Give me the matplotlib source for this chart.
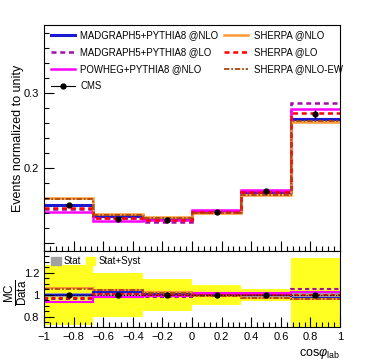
import numpy as np
import matplotlib
matplotlib.use('Agg')
import matplotlib.pyplot as plt
from matplotlib.ticker import MultipleLocator, FixedLocator
from matplotlib.lines import Line2D
from matplotlib.patches import Patch

plt.rcParams['font.family'] = ['Liberation Sans', 'DejaVu Sans']
plt.rcParams['mathtext.fontset'] = 'custom'
plt.rcParams['mathtext.rm'] = 'Liberation Sans'
plt.rcParams['mathtext.it'] = 'Liberation Sans:italic'

# bins in cos(phi_lab)
edges = [-1, -2/3, -1/3, 0, 1/3, 2/3, 1]
centers = [-5/6, -1/2, -1/6, 1/6, 1/2, 5/6]

# data, normalized to unity
cms = [0.1507, 0.1316, 0.1307, 0.1410, 0.1684, 0.2724]
cms_err = [0.0020, 0.0015, 0.0015, 0.0015, 0.0020, 0.0055]

# predictions
mg_nlo = [0.1507, 0.1350, 0.1316, 0.1410, 0.1680, 0.2653]
mg_lo = [0.1452, 0.1330, 0.1282, 0.1410, 0.1682, 0.2862]
powheg = [0.1404, 0.1289, 0.1300, 0.1430, 0.1707, 0.2787]
sherpa_nlo = [0.1596, 0.1378, 0.1338, 0.1400, 0.1640, 0.2617]
sherpa_lo = [0.1462, 0.1324, 0.1307, 0.1413, 0.1680, 0.2729]
sherpa_ew = [0.1590, 0.1375, 0.1335, 0.1402, 0.1642, 0.2622]

# relative uncertainties for ratio bands
stat_rel = [0.020, 0.015, 0.015, 0.012, 0.015, 0.025]
tot_rel = [0.27, 0.20, 0.145, 0.092, 0.052, 0.34]

models = [
    ('MADGRAPH5+PYTHIA8 @NLO', mg_nlo, '#1a1ad0', '-', 2.2),
    ('MADGRAPH5+PYTHIA8 @LO', mg_lo, '#a010a8', (0, (2, 1.5)), 1.8),
    ('POWHEG+PYTHIA8 @NLO', powheg, '#ff00ff', '-', 1.8),
    ('SHERPA @NLO', sherpa_nlo, '#ff9933', '-', 1.8),
    ('SHERPA @LO', sherpa_lo, '#ff0000', (0, (2, 1.5)), 1.8),
    ('SHERPA @NLO-EW', sherpa_ew, '#a84a10', (0, (3, 1, 1, 1)), 1.3),
]

fig = plt.figure(figsize=(3.7, 3.6), dpi=100)
ax = fig.add_axes([0.119, 0.303, 0.8, 0.628])
rax = fig.add_axes([0.119, 0.092, 0.8, 0.211])

# upper panel
for name, vals, col, ls, lw in models:
    ax.stairs(vals, edges, baseline=None, color=col, ls=ls, lw=lw)
ax.errorbar(centers, cms, yerr=cms_err, fmt='o', color='black', ms=3.5, lw=0.8, capsize=0)

ax.set_xlim(-1, 1)
ax.set_ylim(0.089, 0.391)
ax.yaxis.set_major_locator(FixedLocator([0.1, 0.2, 0.3]))
ax.set_yticklabels(['', '0.2', '0.3'])
ax.yaxis.set_minor_locator(MultipleLocator(0.02))
ax.xaxis.set_major_locator(MultipleLocator(0.2))
ax.xaxis.set_minor_locator(MultipleLocator(0.04))
ax.tick_params(axis='x', labelbottom=False)
ax.tick_params(which='both', direction='in', top=False, right=False, labelsize=8)
ax.tick_params(which='major', length=7, width=0.8)
ax.tick_params(which='minor', length=3.5, width=0.8)
ax.set_ylabel('Events normalized to unity', fontsize=9)
ax.yaxis.set_label_coords(-0.068, 0.5)

handles = []
for name, vals, col, ls, lw in models:
    handles.append(Line2D([], [], color=col, ls=ls, lw=lw))
cms_h = Line2D([], [], color='black', marker='o', ms=3.5, lw=0.8)
order_h = [handles[0], handles[1], handles[2], cms_h, handles[3], handles[4], handles[5], Line2D([], [], alpha=0)]
order_l = [models[0][0], models[1][0], models[2][0], 'CMS', models[3][0], models[4][0], models[5][0], '']
ax.legend(order_h, order_l, ncol=2, loc='upper left', frameon=False, fontsize=6.9,
          bbox_to_anchor=(0.0, 1.005), handlelength=2.5, handletextpad=0.6,
          columnspacing=0.6, labelspacing=0.72, borderaxespad=0.3)

# ratio panel
for i in range(6):
    rax.fill_between([edges[i], edges[i + 1]], 1 - tot_rel[i], 1 + tot_rel[i],
                     color='#ffff22', lw=0)
for i in range(6):
    rax.fill_between([edges[i], edges[i + 1]], 1 - stat_rel[i], 1 + stat_rel[i],
                     color='#a0a0a0', lw=0)
rax.axhline(1, color='black', ls=':', lw=0.8)
for name, vals, col, ls, lw in models:
    ratio = np.array(vals) / np.array(cms)
    rax.stairs(ratio, edges, baseline=None, color=col, ls=ls, lw=min(lw, 1.5))
rax.plot(centers, np.ones(6), 'o', color='black', ms=3.5)

rax.set_xlim(-1, 1)
rax.set_ylim(0.71, 1.4)
rax.yaxis.set_major_locator(FixedLocator([0.8, 1.0, 1.2]))
rax.set_yticklabels(['0.8', '1', '1.2'])
rax.yaxis.set_minor_locator(MultipleLocator(0.05))
rax.xaxis.set_minor_locator(MultipleLocator(0.04))
rax.set_xticks([-1, -0.8, -0.6, -0.4, -0.2, 0, 0.2, 0.4, 0.6, 0.8, 1])
rax.set_xticklabels(['\u22121', '\u22120.8', '\u22120.6', '\u22120.4', '\u22120.2', '0',
                     '0.2', '0.4', '0.6', '0.8', '1'])
rax.tick_params(which='both', direction='in', top=False, right=False, labelsize=8)
rax.tick_params(which='major', length=7, width=0.8)
rax.tick_params(which='minor', length=3.5, width=0.8)
rax.set_ylabel(r'$\frac{\mathrm{MC}}{\mathrm{Data}}$', fontsize=12, rotation=90,
               ha='center', va='center')
rax.yaxis.set_label_coords(-0.095, 0.45)
rax.set_xlabel(r'cos$\varphi_{\mathrm{lab}}$', fontsize=9, loc='right')

rax.legend([Patch(color='#a0a0a0'), Patch(color='#ffff22')], ['Stat', 'Stat+Syst'],
           ncol=2, loc='upper left', frameon=False, fontsize=7, handlelength=1.0,
           handleheight=1.0, handletextpad=0.3, columnspacing=0.5,
           bbox_to_anchor=(0.0, 1.02), borderaxespad=0.3)

fig.savefig('out.png', dpi=100)
